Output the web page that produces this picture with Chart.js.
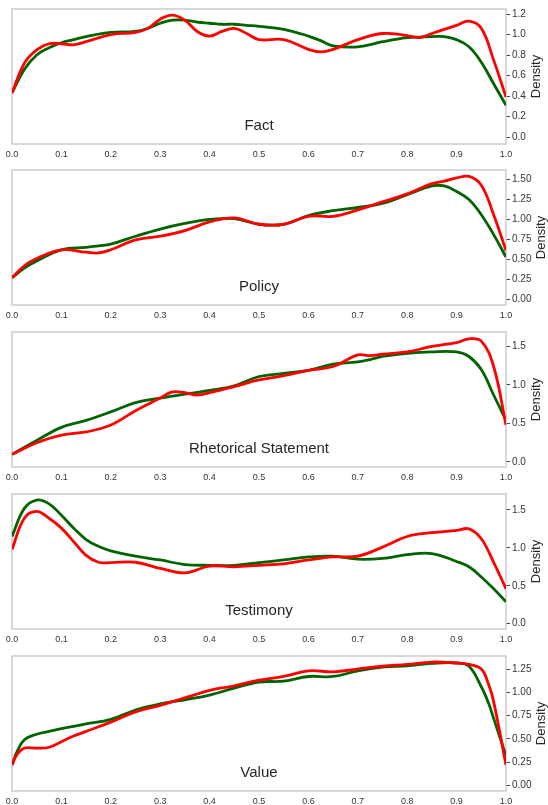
<!DOCTYPE html>
<html>
<head>
<meta charset="utf-8">
<script src="https://cdn.jsdelivr.net/npm/chart.js@4"></script>
<style>
  html, body { margin: 0; padding: 0; background: #fff; overflow: hidden; }
  #wrap { position: relative; width: 548px; height: 805px; }
  canvas { position: absolute; left: 0; }
</style>
</head>
<body>
<div id="wrap">
  <canvas id="c0" width="548" height="160" style="top:0px"></canvas>
  <canvas id="c1" width="548" height="160" style="top:161px"></canvas>
  <canvas id="c2" width="548" height="160" style="top:323px"></canvas>
  <canvas id="c3" width="548" height="160" style="top:485px"></canvas>
  <canvas id="c4" width="548" height="160" style="top:647px"></canvas>
</div>
<script>
const xTicks = [0, 0.1, 0.2, 0.3, 0.4, 0.5, 0.6, 0.7, 0.8, 0.9, 1.0];

// Fact
const factX = [0, 0.025, 0.05, 0.075, 0.1, 0.125, 0.15, 0.2, 0.25, 0.275, 0.3, 0.325, 0.35, 0.375, 0.4, 0.425, 0.45, 0.475, 0.5, 0.55, 0.6, 0.625, 0.65, 0.7, 0.75, 0.8, 0.825, 0.85, 0.875, 0.9, 0.925, 0.95, 0.975, 1.0];
const factRed = [0.43, 0.72, 0.85, 0.91, 0.91, 0.90, 0.93, 1.0, 1.02, 1.06, 1.15, 1.19, 1.14, 1.03, 0.985, 1.03, 1.06, 1.01, 0.95, 0.95, 0.855, 0.83, 0.855, 0.95, 1.01, 0.99, 0.97, 1.01, 1.05, 1.09, 1.13, 1.06, 0.75, 0.39];
const factGreen = [0.43, 0.66, 0.80, 0.87, 0.92, 0.95, 0.98, 1.02, 1.03, 1.06, 1.11, 1.14, 1.14, 1.12, 1.11, 1.10, 1.10, 1.09, 1.08, 1.05, 0.985, 0.94, 0.89, 0.88, 0.93, 0.97, 0.975, 0.98, 0.98, 0.95, 0.88, 0.73, 0.52, 0.31];
const factTicks = [0, 0.2, 0.4, 0.6, 0.8, 1.0, 1.2];

// Policy
const policyX = [0, 0.025, 0.05, 0.1, 0.15, 0.175, 0.2, 0.25, 0.3, 0.35, 0.4, 0.45, 0.5, 0.55, 0.6, 0.65, 0.7, 0.75, 0.8, 0.85, 0.875, 0.9, 0.925, 0.95, 0.975, 1.0];
const policyRed = [0.27, 0.42, 0.51, 0.62, 0.59, 0.58, 0.62, 0.745, 0.79, 0.86, 0.97, 1.02, 0.94, 0.94, 1.04, 1.04, 1.12, 1.22, 1.32, 1.45, 1.48, 1.52, 1.54, 1.43, 1.06, 0.61];
const policyGreen = [0.27, 0.39, 0.48, 0.62, 0.65, 0.67, 0.69, 0.79, 0.88, 0.95, 1.0, 1.01, 0.94, 0.94, 1.05, 1.11, 1.15, 1.20, 1.31, 1.42, 1.42, 1.35, 1.25, 1.06, 0.81, 0.53];
const policyTicks = [0, 0.25, 0.5, 0.75, 1.0, 1.25, 1.5];

// Rhetorical Statement
const rhetX = [0, 0.05, 0.1, 0.15, 0.2, 0.25, 0.3, 0.325, 0.35, 0.375, 0.4, 0.45, 0.5, 0.55, 0.6, 0.65, 0.7, 0.725, 0.75, 0.8, 0.85, 0.9, 0.925, 0.95, 0.975, 1.0];
const rhetRed = [0.10, 0.25, 0.35, 0.39, 0.48, 0.665, 0.83, 0.91, 0.90, 0.87, 0.90, 0.98, 1.065, 1.12, 1.19, 1.24, 1.39, 1.38, 1.40, 1.43, 1.50, 1.55, 1.60, 1.57, 1.24, 0.48];
const rhetGreen = [0.10, 0.28, 0.45, 0.54, 0.65, 0.77, 0.83, 0.855, 0.88, 0.905, 0.93, 0.99, 1.11, 1.15, 1.19, 1.27, 1.30, 1.33, 1.37, 1.41, 1.43, 1.43, 1.37, 1.20, 0.87, 0.54];
const rhetTicks = [0, 0.5, 1.0, 1.5];

// Testimony
const testX = [0, 0.025, 0.05, 0.075, 0.1, 0.125, 0.15, 0.175, 0.2, 0.25, 0.3, 0.35, 0.4, 0.45, 0.5, 0.55, 0.6, 0.65, 0.7, 0.75, 0.8, 0.85, 0.9, 0.925, 0.95, 0.975, 1.0];
const testRed = [0.98, 1.39, 1.48, 1.39, 1.26, 1.08, 0.90, 0.81, 0.805, 0.81, 0.73, 0.67, 0.76, 0.75, 0.77, 0.79, 0.84, 0.88, 0.89, 1.01, 1.15, 1.20, 1.23, 1.25, 1.12, 0.81, 0.46];
const testGreen = [1.15, 1.52, 1.63, 1.58, 1.43, 1.26, 1.11, 1.02, 0.96, 0.89, 0.84, 0.78, 0.77, 0.77, 0.805, 0.84, 0.88, 0.89, 0.85, 0.86, 0.91, 0.925, 0.82, 0.75, 0.615, 0.46, 0.29];
const testTicks = [0, 0.5, 1.0, 1.5];

// Value
const valueX = [0, 0.01, 0.025, 0.05, 0.075, 0.1, 0.125, 0.15, 0.2, 0.25, 0.3, 0.35, 0.4, 0.45, 0.5, 0.55, 0.6, 0.65, 0.7, 0.75, 0.8, 0.85, 0.9, 0.925, 0.95, 0.965, 0.975, 1.0];
const valueRed = [0.22, 0.33, 0.40, 0.40, 0.41, 0.47, 0.53, 0.58, 0.68, 0.79, 0.86, 0.94, 1.02, 1.07, 1.13, 1.17, 1.23, 1.22, 1.25, 1.28, 1.30, 1.325, 1.315, 1.30, 1.25, 1.08, 0.90, 0.22];
const valueGreen = [0.22, 0.36, 0.49, 0.55, 0.58, 0.61, 0.635, 0.66, 0.71, 0.81, 0.875, 0.92, 0.97, 1.045, 1.11, 1.12, 1.17, 1.17, 1.23, 1.27, 1.285, 1.31, 1.315, 1.28, 1.06, 0.88, 0.72, 0.32];
const valueTicks = [0, 0.25, 0.5, 0.75, 1.0, 1.25];

const FONT = "'Liberation Sans', Arial, Helvetica, sans-serif";

function pts(xs, ys) {
  return xs.map((x, i) => ({ x: x, y: ys[i] }));
}

// box, panel label and the rotated "Density" title
const panelDeco = {
  id: "panelDeco",
  beforeDatasetsDraw(chart, args, opts) {
    const a = chart.chartArea;
    const ctx = chart.ctx;
    ctx.save();
    ctx.strokeStyle = "#cccccc";
    ctx.lineWidth = 1.5;
    ctx.strokeRect(a.left, a.top, a.right - a.left, a.bottom - a.top);
    ctx.fillStyle = "#262626";
    ctx.font = "15px " + FONT;
    ctx.textAlign = "center";
    ctx.textBaseline = "middle";
    ctx.fillText(opts.label, (a.left + a.right) / 2, a.bottom - 18);
    ctx.font = "13px " + FONT;
    ctx.translate(opts.titleX, (a.top + a.bottom) / 2);
    ctx.rotate(-Math.PI / 2);
    ctx.fillText("Density", 0, 0);
    ctx.restore();
  },
};

function makePanel(id, xs, green, red, yMin, yMax, yTicks, decimals, label) {
  new Chart(document.getElementById(id), {
    type: "line",
    data: {
      datasets: [
        {
          data: pts(xs, red),
          borderColor: "#ff0000",
          borderWidth: 2.8,
          pointRadius: 0,
          tension: 0.4,
        },
        {
          data: pts(xs, green),
          borderColor: "#006400",
          borderWidth: 2.8,
          pointRadius: 0,
          tension: 0.4,
        },
      ],
    },
    options: {
      responsive: false,
      animation: false,
      layout: { padding: { top: 9, left: 12, right: 0, bottom: 0 } },
      plugins: {
        legend: { display: false },
        tooltip: { enabled: false },
        panelDeco: { label: label, titleX: decimals === 2 ? 541 : 536 },
      },
      scales: {
        x: {
          type: "linear",
          min: 0,
          max: 1,
          afterBuildTicks: (s) => { s.ticks = xTicks.map((v) => ({ value: v })); },
          afterFit: (s) => { s.height = 16; },
          grid: { display: false, drawTicks: false },
          border: { display: false },
          ticks: {
            padding: 5,
            maxRotation: 0,
            autoSkip: false,
            color: "#333333",
            font: { family: FONT, size: 9 },
            callback: (v) => v.toFixed(1),
          },
        },
        y: {
          position: "right",
          min: yMin,
          max: yMax,
          afterBuildTicks: (s) => { s.ticks = yTicks.map((v) => ({ value: v })); },
          afterFit: (s) => { s.width = 42; },
          grid: { drawOnChartArea: false, drawTicks: true, tickLength: 4, tickColor: "#444444" },
          border: { display: false },
          ticks: {
            padding: 2,
            color: "#333333",
            font: { family: FONT, size: 10 },
            callback: (v) => v.toFixed(decimals),
          },
        },
      },
    },
    plugins: [panelDeco],
  });
}

makePanel("c0", factX, factGreen, factRed, -0.068, 1.249, factTicks, 1, "Fact");
makePanel("c1", policyX, policyGreen, policyRed, -0.072, 1.62, policyTicks, 2, "Policy");
makePanel("c2", rhetX, rhetGreen, rhetRed, -0.065, 1.688, rhetTicks, 1, "Rhetorical Statement");
makePanel("c3", testX, testGreen, testRed, -0.07, 1.71, testTicks, 1, "Testimony");
makePanel("c4", valueX, valueGreen, valueRed, -0.06, 1.39, valueTicks, 2, "Value");
</script>
</body>
</html>
